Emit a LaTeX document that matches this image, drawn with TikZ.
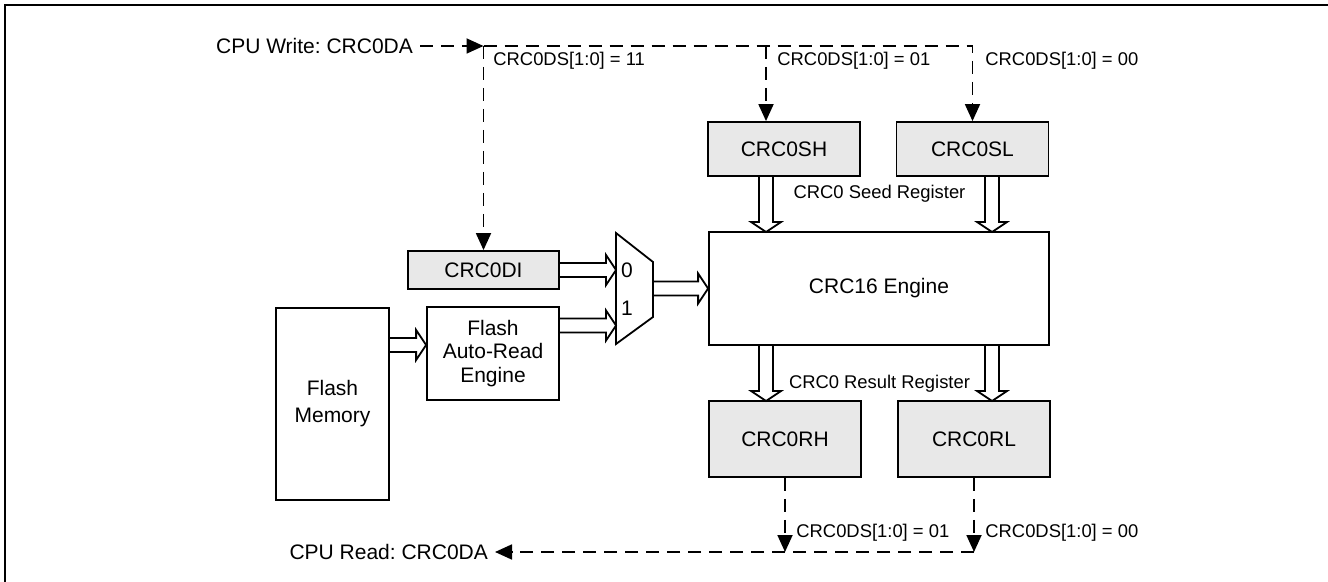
\documentclass[tikz,border=0pt]{standalone}
\usepackage{fontspec}
\setmainfont{Liberation Sans}
\usetikzlibrary{arrows.meta, calc}
\frenchspacing

\definecolor{regfill}{HTML}{E8E8E8}
\newcommand{\bigtxt}{\fontsize{10.5}{11.8}\selectfont}
\newcommand{\lbltxt}{\fontsize{9.2}{11}\selectfont}
% hollow bus arrow from #1 to #2
\newcommand{\busarrow}[2]{%
  \draw[line width=0.9pt, line join=miter]
    ($(#1)!3.5pt!90:(#2)$) -- ($($(#2)!5pt!(#1)$)!3.5pt!-90:(#1)$)
    -- ($($(#2)!5pt!(#1)$)!7.5pt!-90:(#1)$) -- (#2)
    -- ($($(#2)!5pt!(#1)$)!7.5pt!90:(#1)$) -- ($($(#2)!5pt!(#1)$)!3.5pt!90:(#1)$)
    -- ($(#1)!3.5pt!-90:(#2)$);}

\begin{document}
\begin{tikzpicture}[x=0.5pt, y=-0.5pt,
  reg/.style={draw, line width=0.9pt, fill=regfill, font=\bigtxt,
    minimum width=76pt, minimum height=38pt, inner sep=0pt},
  blk/.style={draw, line width=0.9pt, fill=white, font=\bigtxt, align=center, inner sep=0pt},
  lbl/.style={font=\lbltxt, inner sep=0pt},
  dsh/.style={line width=0.9pt, dash pattern=on 6.5pt off 4pt},
  tip/.style={-{Triangle[length=8.5pt, width=7.5pt]}}]
  \useasboundingbox (0,0) rectangle (1328,582);
  % frame
  \draw[line width=1.3pt] (5,582) -- (5,5) -- (1328,5);

  % blocks
  \node[blk, minimum width=170pt, minimum height=56.5pt] (eng) at (879,288.5) {CRC16 Engine};
  \node[reg, minimum height=27pt] (sh) at (784,149) {CRC0SH};
  \node[reg, minimum height=27pt] (sl) at (972.5,149) {CRC0SL};
  \node[reg] (rh) at (785,439) {CRC0RH};
  \node[reg] (rl) at (974,439) {CRC0RL};
  \node[reg, minimum width=75.5pt, minimum height=19pt] (di) at (483.5,270) {CRC0DI};
  \node[blk, minimum width=66pt, minimum height=46.5pt] (are) at (493,353.5) {Flash\\Auto-Read\\Engine};
  \node[blk, minimum width=56.5pt, minimum height=96pt, font=\fontsize{10.5}{13.5}\selectfont] (fm) at (332.5,404) {Flash\\Memory};

  % mux
  \coordinate (m1) at (616,233);
  \coordinate (m2) at (653,262);
  \coordinate (m3) at (653,317);
  \coordinate (m4) at (616,344);
  \draw[line width=0.9pt, fill=white] (m1) -- (m2) -- (m3) -- (m4) -- cycle;
  \node[font=\bigtxt, inner sep=0pt] (in0) at (627,270) {0};
  \node[font=\bigtxt, inner sep=0pt] (in1) at (627,308) {1};

  % bus arrows
  \busarrow{fm.east |- 0,345}{are.west |- 0,345}
  \busarrow{di.east}{m1 |- di.east}
  \busarrow{are.east |- 0,325.5}{m1 |- 0,325.5}
  \busarrow{m2 |- eng.west}{eng.west}
  \busarrow{766,176}{766,232}
  \busarrow{992,176}{992,232}
  \busarrow{766,345}{766,401}
  \busarrow{992,345}{992,401}
  \node[lbl] (seed) at (879.5,194) {CRC0 Seed Register};
  \node[lbl] (res) at (879.5,383.5) {CRC0 Result Register};

  % CPU write path
  \node[font=\bigtxt, anchor=east] (wr) at (420,46) {CPU Write: CRC0DA};
  \coordinate (jw) at (di.north |- wr.east);
  \coordinate (jh) at (766,46);
  \coordinate (jl) at (sl.north |- wr.east);
  \draw[dsh, tip] (wr.east) -- (jw);
  \draw[dsh, tip] (jw) -- (di.north);
  \draw[dsh, tip] (jw) -- (jl) -- (sl.north);
  \draw[dsh, tip] (jh) -- (jh |- sh.north);
  \node[lbl, anchor=west] at (493,61) {CRC0DS[1:0] = 11};
  \node[lbl, anchor=west] at (777,61) {CRC0DS[1:0] = 01};
  \node[lbl, anchor=west] at (985,61) {CRC0DS[1:0] = 00};

  % CPU read path
  \node[font=\bigtxt, anchor=east] (rd) at (495,552) {CPU Read: CRC0DA};
  \coordinate (kl) at (rl.south |- rd.east);
  \draw[dsh, tip] (rh.south) -- (rh.south |- rd.east);
  \draw[dsh, tip] (rl.south) -- (kl);
  \draw[dsh, tip] (kl) -- (rd.east);
  \node[lbl, anchor=west] at (796,533) {CRC0DS[1:0] = 01};
  \node[lbl, anchor=west] at (985,533) {CRC0DS[1:0] = 00};
\end{tikzpicture}
\end{document}
